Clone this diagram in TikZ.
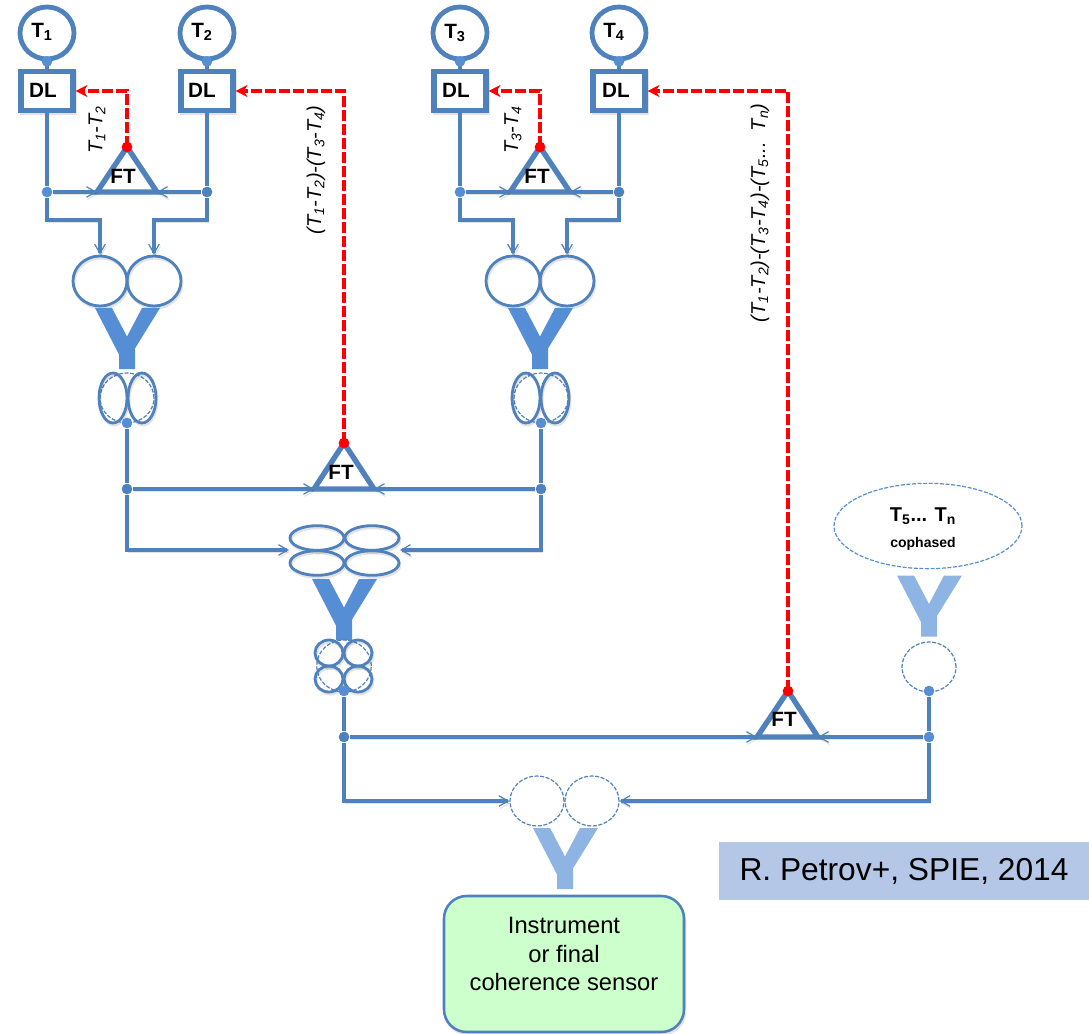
\documentclass[tikz,border=0pt]{standalone}
\usepackage{fontspec}
\setmainfont{Liberation Sans}
\usetikzlibrary{shapes.geometric,arrows.meta}
\definecolor{lineblue}{RGB}{79,129,189}
\definecolor{fillblue}{RGB}{85,142,213}
\definecolor{paleblue}{RGB}{142,180,227}
\definecolor{signred}{RGB}{255,0,0}
\tikzset{
  every picture/.style={line width=0.75pt},
  soft/.style={preaction={draw=black,draw opacity=.11,transform canvas={shift={(.8pt,-1.6pt)}}}},
  fiber/.style={soft,draw=lineblue,line width=3.4pt,line join=miter},
  feed/.style={fiber,-{Straight Barb[length=7pt,width=8pt,line width=0.9pt]}},
  servo/.style={draw=signred,line width=3.6pt,dash pattern=on 8pt off 2.5pt},
  servohead/.style={servo,-{Stealth[length=9pt,width=9pt]}},
  telescope/.style={ellipse,draw=lineblue,line width=3.6pt,minimum width=40.5pt,minimum height=39pt,inner sep=0pt},
  delay/.style={soft,rectangle,draw=lineblue,line width=3.8pt,fill=white,minimum width=39pt,minimum height=29pt,inner sep=0pt},
  boldtxt/.style={inner sep=0pt,font=\bfseries\fontsize{15.5}{15.5}\selectfont},
  beam/.style={soft,ellipse,draw=lineblue,line width=2.1pt,minimum width=40.5pt,minimum height=37.5pt,inner sep=0pt},
  beamflat/.style={beam,minimum height=18.5pt},
  beamtall/.style={beam,minimum width=21pt,minimum height=37.5pt},
  beamsmall/.style={beam,minimum width=21pt,minimum height=19.5pt},
  cophased/.style={ellipse,draw=lineblue,line width=0.9pt,dash pattern=on 3pt off 1.2pt,minimum width=40.5pt,minimum height=37.5pt,inner sep=0pt},
  dot/.style={circle,fill=fillblue,inner sep=0pt,minimum size=8pt},
  dotdark/.style={dot,fill=lineblue},
  reddot/.style={circle,fill=signred,inner sep=0pt,minimum size=8pt},
  tag/.style={rotate=90,font=\itshape\fontsize{15}{15}\selectfont,inner sep=0pt},
  splitter/.pic={\fill[pic actions] (-32,-30.5) -- (-15,-30.5) -- (0,-2) -- (15,-30.5) -- (33,-30.5) -- (8,10) -- (8,30.5) -- (-8,30.5) -- (-8,16) -- cycle;}
}
\begin{document}
\begin{tikzpicture}[x=0.75pt,y=0.75pt,yscale=-1,xscale=1]
\useasboundingbox (0,0) rectangle (1089,1034);

%Telescopes
\node[telescope] (t1) at (47,33) {};
\node[telescope] (t2) at (207,33) {};
\node[telescope] (t3) at (460,33) {};
\node[telescope] (t4) at (619,33) {};
\node[boldtxt] (t1txt) at (42,32) {T\textsubscript{1}};
\node[boldtxt] (t2txt) at (202,32) {T\textsubscript{2}};
\node[boldtxt] (t3txt) at (455,33) {T\textsubscript{3}};
\node[boldtxt] (t4txt) at (614,32) {T\textsubscript{4}};
%Delay lines
\node[delay] (dl1) at (47,91) {};
\node[delay] (dl2) at (207,91) {};
\node[delay] (dl3) at (460,91) {};
\node[delay] (dl4) at (619,91) {};
\node[boldtxt] (dl1txt) at (43,90) {DL};
\node[boldtxt] (dl2txt) at (202,90) {DL};
\node[boldtxt] (dl3txt) at (456,90) {DL};
\node[boldtxt] (dl4txt) at (616,90) {DL};
\foreach \i in {1,2,3,4} {
  \draw[fiber] (t\i.south) -- (dl\i.north);
  \node[dot] (tdot\i) at (t\i.south) {};
}

%Fringe trackers
\coordinate (fta) at (127,147); \coordinate (ftal) at (97,192); \coordinate (ftar) at (157,192);
\coordinate (ftb) at (540,147); \coordinate (ftbl) at (510,192); \coordinate (ftbr) at (570,192);
\coordinate (ftc) at (344,443); \coordinate (ftcl) at (314,489); \coordinate (ftcr) at (374,489);
\coordinate (ftd) at (788,691); \coordinate (ftdl) at (757,737); \coordinate (ftdr) at (818,737);
\foreach \f in {fta,ftb,ftc,ftd} {
  \draw[fiber,line width=4pt] (\f) -- (\f l) -- (\f r) -- cycle;
}
\node[boldtxt] (ftatxt) at (123,176) {FT};
\node[boldtxt] (ftbtxt) at (537,176) {FT};
\node[boldtxt] (ftctxt) at (341,472) {FT};
\node[boldtxt] (ftdtxt) at (784,719) {FT};

%Junctions on first level
\node[dot] (j1) at (47,192) {};
\node[dotdark] (j2) at (207,192) {};
\node[dot] (j3) at (460,192) {};
\node[dotdark] (j4) at (619,192) {};
\draw[fiber] (dl1.south) -- (j1);
\draw[fiber] (dl2.south) -- (j2);
\draw[fiber] (dl3.south) -- (j3);
\draw[fiber] (dl4.south) -- (j4);
\draw[feed] (j1) -- (ftal);
\draw[feed] (j2) -- (ftar);
\draw[feed] (j3) -- (ftbl);
\draw[feed] (j4) -- (ftbr);

%Beams in front of first beam combiners
\node[beam] (b1) at (100,281) {};
\node[beam] (b2) at (154,281) {};
\node[beam] (b3) at (513,281) {};
\node[beam] (b4) at (567,281) {};
\draw[feed] (j1) -- (47,220) -| (b1.north);
\draw[feed] (j2) -- (207,220) -| (b2.north);
\draw[feed] (j3) -- (460,220) -| (b3.north);
\draw[feed] (j4) -- (619,220) -| (b4.north);

%Splitters
\path[fill=fillblue] (127,338.5) pic[transform shape] {splitter};
\path[fill=fillblue] (540,338.5) pic[transform shape] {splitter};
\path[fill=fillblue] (344,609.5) pic[transform shape] {splitter};
\path[fill=paleblue] (929,606) pic[transform shape] {splitter};
\path[fill=paleblue] (565,858.5) pic[transform shape] {splitter};

%Beams after first beam combiners
\node[cophased] (cab) at (127,398) {};
\node[cophased] (ccd) at (541,398) {};
\node[beamtall] (b12l) at (113,398) {};
\node[beamtall] (b12r) at (142,398) {};
\node[beamtall] (b34l) at (526,398) {};
\node[beamtall] (b34r) at (555,398) {};
\node[dot] (d12) at (127,423) {};
\node[dot] (d34) at (541,423) {};
\node[dotdark] (j5) at (127,489) {};
\node[dotdark] (j6) at (541,489) {};
\draw[fiber] (d12) -- (j5);
\draw[fiber] (d34) -- (j6);
\draw[feed] (j5) -- (ftcl);
\draw[feed] (j6) -- (ftcr);

%Beams in front of second beam combiner
\node[beamflat] (m1) at (317,538) {};
\node[beamflat] (m2) at (372,538) {};
\node[beamflat] (m3) at (317,563) {};
\node[beamflat] (m4) at (372,563) {};
\coordinate (mleft) at (289,550);
\coordinate (mright) at (400,550);
\draw[feed] (j5) |- (mleft);
\draw[feed] (j6) |- (mright);

%Beams after second beam combiner
\node[cophased,minimum width=41pt,minimum height=39pt] (cabcd) at (344,666) {};
\node[beamsmall] (s1) at (329,653) {};
\node[beamsmall] (s2) at (358,653) {};
\node[beamsmall] (s3) at (329,679) {};
\node[beamsmall] (s4) at (358,679) {};
\node[dot] (d1234) at (344,691) {};
\node[dotdark] (j7) at (344,737) {};
\draw[fiber] (d1234) -- (j7);
\draw[feed] (j7) -- (ftdl);

%Other telescopes
\node[cophased,draw=fillblue,minimum width=141pt,minimum height=64pt] (rest) at (928,526) {};
\node[boldtxt,font=\bfseries\fontsize{15}{15}\selectfont] (resttxt) at (923,516) {T\textsubscript{5}... T\textsubscript{n}};
\node[inner sep=0pt,font=\bfseries\fontsize{10.5}{11}\selectfont] (restsub) at (923,544) {cophased};
\node[cophased] (crest) at (929,667) {};
\node[dot] (drest) at (929,691) {};
\node[dot] (j8) at (929,737) {};
\draw[fiber] (drest) -- (j8);
\draw[feed] (j8) -- (ftdr);

%Beams in front of last beam combiner
\node[cophased] (e1) at (537,801) {};
\node[cophased] (e2) at (592,801) {};
\draw[feed] (j7) |- (e1.west);
\draw[feed] (j8) |- (e2.east);

%Servo loops
\draw[servohead] (fta) -- (127,91) -- (dl1.east);
\draw[servohead] (ftb) -- (540,91) -- (dl3.east);
\draw[servohead] (ftc) -- (344,91) -- (dl2.east);
\draw[servohead] (ftd) -- (788,91) -- (dl4.east);
\foreach \f in {fta,ftb,ftc,ftd} {
  \node[reddot] (\f dot) at (\f) {};
}

%Rotated labels
\node[tag] (la) at (97,130) {T\textsubscript{1}-T\textsubscript{2}};
\node[tag] (lb) at (513,130) {T\textsubscript{3}-T\textsubscript{4}};
\node[tag] (lc) at (316,170) {(T\textsubscript{1}-T\textsubscript{2})-(T\textsubscript{3}-T\textsubscript{4})};
\node[tag] (ld) at (760,213) {(T\textsubscript{1}-T\textsubscript{2})-(T\textsubscript{3}-T\textsubscript{4})-(T\textsubscript{5}...\ \ T\textsubscript{n})};

%Instrument box
\node[soft,rectangle,rounded corners=17pt,draw=lineblue,line width=1.9pt,fill={rgb,255:red,204;green,255;blue,204},minimum width=180pt,minimum height=102pt,inner sep=0pt] (inst) at (564,964) {};
\node[inner sep=0pt,align=center,font=\fontsize{17.8}{21.5}\selectfont] (insttxt) at (564,954) {Instrument\\or final\\coherence sensor};

%Reference
\node[rectangle,fill={rgb,255:red,180;green,199;blue,231},minimum width=277.5pt,minimum height=43.5pt,inner sep=0pt,font=\fontsize{23.8}{23.8}\selectfont] (ref) at (904,871) {R. Petrov+, SPIE, 2014};

\end{tikzpicture}
\end{document}
